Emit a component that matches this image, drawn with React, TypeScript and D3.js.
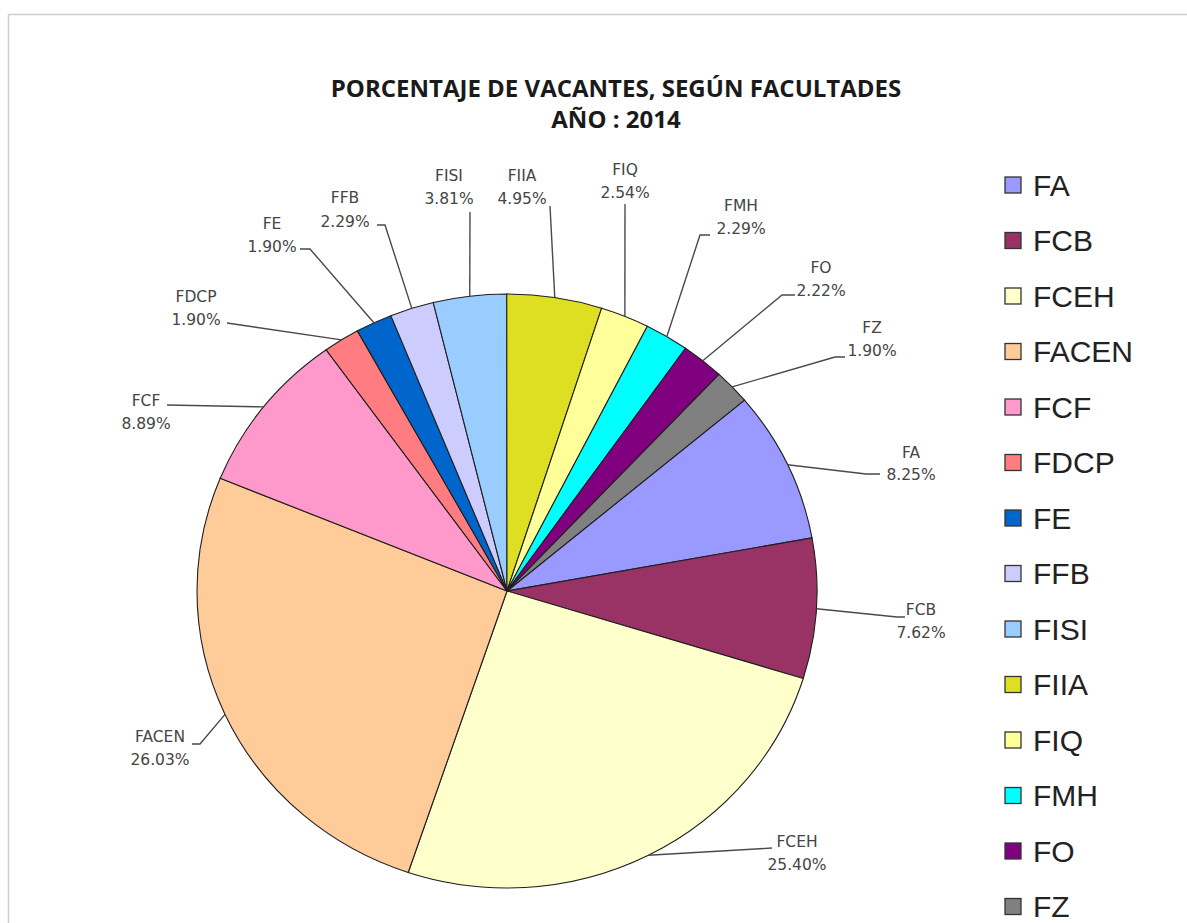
import React from 'react';
import * as d3 from 'd3';

const categories = ['FA', 'FCB', 'FCEH', 'FACEN', 'FCF', 'FDCP', 'FE', 'FFB', 'FISI', 'FIIA', 'FIQ', 'FMH', 'FO', 'FZ'];
const values = [8.25, 7.62, 25.40, 26.03, 8.89, 1.90, 1.90, 2.29, 3.81, 4.95, 2.54, 2.29, 2.22, 1.90];
const colors = ['#9999FF', '#993366', '#FFFFCC', '#FFCC99', '#FF99CC', '#FF7C80', '#0066CC', '#CCCCFF', '#99CCFF', '#DEDE22', '#FFFF99', '#00FFFF', '#800080', '#808080'];
const titleLines = ['PORCENTAJE DE VACANTES, SEGÚN FACULTADES', 'AÑO : 2014'];

// label layout (center x, first-line center y, second-line center y, leader points after the slice edge)
const labelLayout: { [k: string]: { x: number; y1: number; y2: number; pts: [number, number][] } } = {
  FA: { x: 911, y1: 453, y2: 475, pts: [[866, 474], [880, 474]] },
  FCB: { x: 921, y1: 610, y2: 633, pts: [[897, 617], [905, 617]] },
  FCEH: { x: 797, y1: 842, y2: 865, pts: [[772, 848]] },
  FACEN: { x: 160, y1: 737, y2: 760, pts: [[200, 744], [192, 744]] },
  FCF: { x: 146, y1: 401, y2: 424, pts: [[167, 405]] },
  FDCP: { x: 196, y1: 297, y2: 320, pts: [[227, 323]] },
  FE: { x: 272, y1: 224, y2: 247, pts: [[310, 249], [300, 249]] },
  FFB: { x: 345, y1: 198, y2: 222, pts: [[385, 225], [377, 225]] },
  FISI: { x: 449, y1: 176, y2: 199, pts: [[470, 212]] },
  FIIA: { x: 522, y1: 176, y2: 199, pts: [[550, 206]] },
  FIQ: { x: 625, y1: 170, y2: 193, pts: [[625, 204]] },
  FMH: { x: 741, y1: 206, y2: 229, pts: [[700, 235], [710, 235]] },
  FO: { x: 821, y1: 268, y2: 291, pts: [[782, 295], [795, 295]] },
  FZ: { x: 872, y1: 328, y2: 351, pts: [[835, 357], [845, 357]] },
};

const W = 1187;
const H = 923;
const cx = 507;
const cy = 591;
const rx = 310;
const ry = 297;
const startDeg = 50;

export default function App() {
  const start = (startDeg * Math.PI) / 180;
  const pie = d3.pie<number>().sort(null).value((d) => d).startAngle(start).endAngle(start + 2 * Math.PI);
  const arcs = pie(values);
  const arc = d3.arc<d3.PieArcDatum<number>>().innerRadius(0).outerRadius(ry);
  const line = d3.line();

  const legendX = 1005;
  const legendY0 = 185;
  const legendStep = 55.5;

  return (
    <svg width={W} height={H} style={{ position: 'absolute', left: 0, top: 0, background: '#fff' }}>
      <rect x={8.5} y={14.5} width={1300} height={1000} fill="#ffffff" stroke="#cfcfcf" strokeWidth={1.5} />
      <text x={616} y={97} textAnchor="middle" fontFamily="'Open Sans', sans-serif" fontWeight="bold" fontSize={24} fill="#1a1a1a">
        {titleLines[0]}
      </text>
      <text x={616} y={128} textAnchor="middle" fontFamily="'Open Sans', sans-serif" fontWeight="bold" fontSize={24} fill="#1a1a1a">
        {titleLines[1]}
      </text>

      <g transform={`translate(${cx},${cy}) scale(${rx / ry},1)`}>
        {arcs.map((a, i) => (
          <path key={categories[i]} d={arc(a) || ''} fill={colors[i]} stroke="#1f1f1f" strokeWidth={1.1} vectorEffect="non-scaling-stroke" />
        ))}
      </g>

      {arcs.map((a, i) => {
        const mid = (a.startAngle + a.endAngle) / 2;
        const ex = cx + rx * Math.sin(mid);
        const ey = cy - ry * Math.cos(mid);
        const lay = labelLayout[categories[i]];
        const pts: [number, number][] = [[ex, ey], ...lay.pts];
        return (
          <g key={'lab' + categories[i]}>
            <path d={line(pts) || ''} fill="none" stroke="#4a4a4a" strokeWidth={1.4} />
            <text x={lay.x} y={lay.y1} dy="0.35em" textAnchor="middle" fontFamily="'DejaVu Sans', sans-serif" fontSize={15.5} fill="#454545">
              {categories[i]}
            </text>
            <text x={lay.x} y={lay.y2} dy="0.35em" textAnchor="middle" fontFamily="'DejaVu Sans', sans-serif" fontSize={15.5} fill="#454545">
              {`${values[i].toFixed(2)}%`}
            </text>
          </g>
        );
      })}

      {categories.map((c, i) => {
        const y = legendY0 + i * legendStep;
        return (
          <g key={'leg' + c}>
            <rect x={legendX} y={y - 8} width={16} height={16} fill={colors[i]} stroke="#333" strokeWidth={1.3} />
            <text x={legendX + 28} y={y} dy="0.36em" fontFamily="'Liberation Sans', Arial, sans-serif" fontSize={30} fill="#222">
              {c}
            </text>
          </g>
        );
      })}
    </svg>
  );
}
